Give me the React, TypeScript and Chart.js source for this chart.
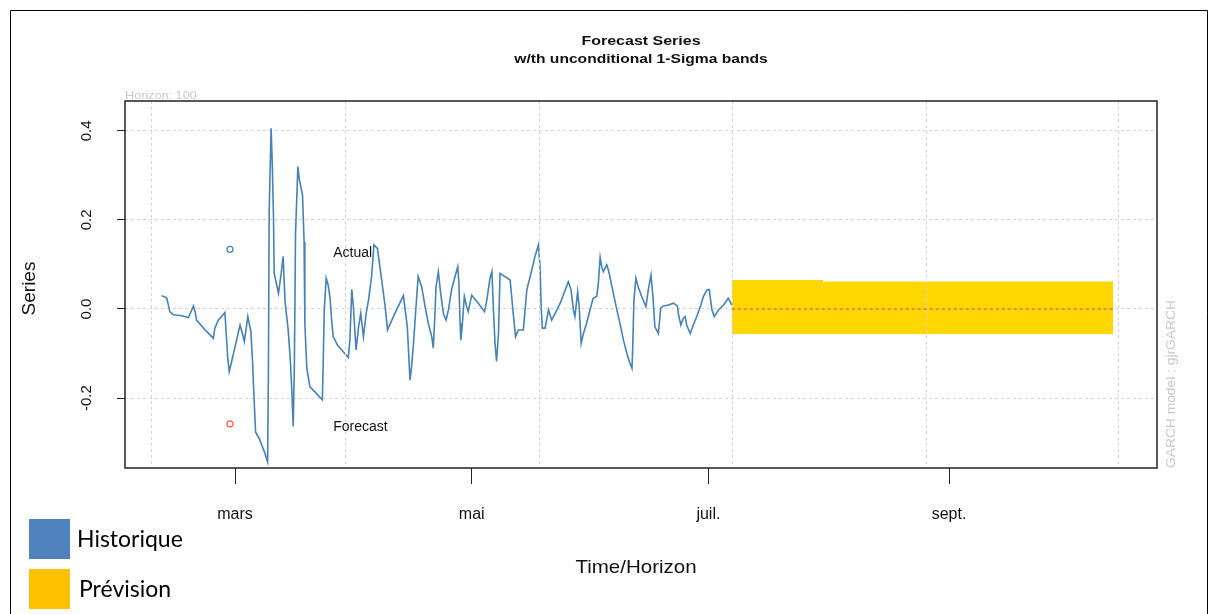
import React, { useEffect, useRef } from "react";
import { Chart, registerables } from "chart.js";

Chart.register(...registerables);

// ---- Data (x = day of year, y = series value) ----
const histDays = [
  40.1, 41.4, 42.2, 43.1, 45.3, 47.0, 48.3, 48.7, 49.1, 51.3, 53.0, 53.4, 53.8, 54.7, 56.4, 57.1, 57.5, 58.2, 59.0,
  60.3, 60.9, 61.4, 62.3, 63.1, 63.5, 64.0, 64.3, 65.4, 66.7, 67.4, 67.6, 67.8, 68.3, 68.6, 68.9, 69.1, 70.2, 70.9,
  71.4, 71.9, 72.7, 73.2, 73.6, 74.0, 74.3, 74.6, 75.2, 75.6, 76.4, 76.8, 77.0, 77.5, 78.3, 79.6, 81.5, 81.7, 82.0,
  82.5, 83.0, 83.5, 83.9, 84.3, 85.4, 86.5, 88.2, 88.6, 89.1, 89.5, 90.2, 90.8, 91.4, 92.1, 92.8, 93.4, 94.2, 94.8,
  95.7, 96.8, 97.7, 98.3, 100.2, 102.4, 103.4, 104.1, 104.5, 105.0, 105.4, 106.2, 107.1, 108.0, 108.8, 109.7, 110.1,
  110.5, 110.8, 111.4, 112.0, 112.7, 113.4, 114.0, 114.8, 115.7, 116.4, 116.7, 117.0, 117.2, 117.6, 118.1, 118.7,
  119.1, 120.0, 121.7, 123.3, 123.9, 124.7, 125.2, 125.6, 126.0, 126.4, 126.9, 127.3, 129.9, 130.7, 131.3, 132.0,
  133.3, 134.2, 135.5, 136.3, 137.2, 137.6, 137.9, 138.2, 138.9, 139.8, 140.6, 141.5, 142.8, 144.1, 144.9, 145.6,
  146.2, 146.6, 147.3, 147.7, 148.2, 148.8, 149.6, 150.7, 151.3, 152.2, 152.6, 153.1, 153.5, 153.9, 154.8, 155.2,
  155.6, 156.5, 157.4, 158.2, 159.1, 160.0, 160.6, 161.3, 161.5, 161.8, 162.3, 162.9, 163.8, 164.9, 165.5, 166.2,
  166.7, 167.2, 168.1, 168.7, 169.4, 170.7, 172.0, 173.0, 173.3, 173.9, 174.5, 175.0, 175.4, 176.3, 177.1, 178.0,
  178.9, 179.7, 180.6, 181.2, 181.9, 182.5, 183.6, 184.9, 186.1, 186.6, 187.0,
];
const histValues = [
  0.030, 0.025, -0.006, -0.013, -0.015, -0.019, 0.007, -0.006, -0.025, -0.047, -0.062, -0.066, -0.043, -0.025, -0.008,
  -0.107, -0.141, -0.115, -0.085, -0.036, -0.055, -0.073, -0.017, -0.051, -0.115, -0.219, -0.276, -0.294, -0.324,
  -0.343, -0.152, 0.215, 0.406, 0.327, 0.215, 0.080, 0.035, 0.080, 0.118, 0.016, -0.047, -0.107, -0.175, -0.264,
  -0.122, 0.170, 0.320, 0.290, 0.256, 0.151, -0.032, -0.133, -0.175, -0.186, -0.204, -0.133, -0.002, 0.069, 0.054,
  0.024, -0.025, -0.062, -0.081, -0.092, -0.109, -0.070, 0.044, 0.005, -0.092, -0.043, -0.010, -0.062, -0.010, 0.020,
  0.073, 0.144, 0.136, 0.065, 0.005, -0.047, -0.010, 0.030, -0.040, -0.160, -0.130, -0.077, -0.025, 0.073, 0.050,
  0.005, -0.032, -0.062, -0.088, -0.017, 0.050, 0.084, 0.035, -0.010, -0.025, -0.002, 0.043, 0.073, 0.095, 0.058,
  -0.032, -0.070, -0.032, 0.028, 0.005, -0.006, 0.031, 0.013, -0.006, 0.020, 0.069, 0.084, -0.002, -0.077, -0.118,
  -0.055, 0.080, 0.065, -0.010, -0.062, -0.047, -0.047, 0.043, 0.088, 0.118, 0.144, 0.095, 0.005, -0.043, -0.043,
  -0.002, -0.025, -0.010, 0.013, 0.043, 0.061, 0.043, -0.002, -0.017, 0.039, 0.005, -0.077, -0.055, -0.032, 0.005,
  0.024, 0.028, 0.054, 0.116, 0.095, 0.084, 0.099, 0.088, 0.073, 0.035, -0.002, -0.032, -0.070, -0.100, -0.118,
  -0.133, -0.085, 0.020, 0.069, 0.050, 0.028, 0.005, 0.043, 0.076, 0.028, -0.040, -0.055, 0.002, 0.007, 0.009, 0.013,
  0.007, -0.013, -0.036, -0.021, -0.017, -0.036, -0.055, -0.036, -0.017, 0.005, 0.028, 0.043, 0.044, -0.002, -0.017,
  -0.002, 0.009, 0.024, 0.016, 0.009,
];

const bandDays = [187.0, 210.5, 210.5, 285.3];
const bandUpper = [0.065, 0.065, 0.062, 0.062];
const bandLower = [-0.056, -0.056, -0.056, -0.056];
const forecastDays = [187.0, 285.3];
const forecastValues = [0, 0];

const monthTickDays = [59, 120, 181, 243];
const monthTickLabels = ["mars", "mai", "juil.", "sept."];
const yTickValues = [-0.2, 0, 0.2, 0.4];
const gridDays = [37.6, 87.6, 137.4, 187.1, 237.1, 286.8];

const xRange = [30.65, 296.6];
const yRange = [-0.357, 0.467];

// legend (inside plot) positions in data units
const legendDay = 57.7;
const legendTextDay = 84.3;
const actualLegendValue = 0.134;
const forecastLegendValue = -0.258;

const titleLine1 = "Forecast Series";
const titleLine2 = "w/th unconditional 1-Sigma bands";
const subText = "Horizon: 100";
const sideText = "GARCH model : gjrGARCH";
const yTitle = "Series";
const xTitle = "Time/Horizon";
const legendActual = "Actual";
const legendForecast = "Forecast";
const bottomLegendLabels = ["Historique", "Prévision"];
const bottomLegendColors = ["#4F81BD", "#FFC000"];

const SANS = "'Liberation Sans', Arial, sans-serif";
const LINE_BLUE = "steelblue";
const TOMATO = "#FF6347";
const GOLD = "#FFD700";
const GRID = "#d3d3d3";

const toPts = (xs: number[], ys: number[]) => xs.map((x, i) => ({ x, y: ys[i] }));

function drawText(
  ctx: CanvasRenderingContext2D,
  s: string,
  x: number,
  y: number,
  font: string,
  color: string,
  align: CanvasTextAlign = "center",
  rot = 0,
  sx = 1
) {
  ctx.save();
  ctx.translate(x, y);
  if (rot) ctx.rotate(rot);
  if (sx !== 1) ctx.scale(sx, 1);
  ctx.font = font;
  ctx.fillStyle = color;
  ctx.textAlign = align;
  ctx.textBaseline = "middle";
  ctx.fillText(s, 0, 0);
  ctx.restore();
}

const decorPlugin = {
  id: "decor",
  afterDraw(chart: any) {
    const ctx: CanvasRenderingContext2D = chart.ctx;
    const { left, right, top, bottom } = chart.chartArea;
    const xs = chart.scales.x;
    const ys = chart.scales.y;
    ctx.save();
    // plot box
    ctx.strokeStyle = "#222";
    ctx.lineWidth = 1.5;
    ctx.strokeRect(left, top, right - left, bottom - top);
    // outer frame
    ctx.strokeStyle = "#000";
    ctx.lineWidth = 1;
    ctx.beginPath();
    ctx.moveTo(10.5, 614);
    ctx.lineTo(10.5, 10.5);
    ctx.lineTo(1207.5, 10.5);
    ctx.lineTo(1207.5, 614);
    ctx.stroke();

    const cx = (left + right) / 2;
    drawText(ctx, titleLine1, cx, 42, `bold 12.5px ${SANS}`, "#111", "center", 0, 1.28);
    drawText(ctx, titleLine2, cx, 60, `bold 12.5px ${SANS}`, "#111", "center", 0, 1.25);
    drawText(ctx, subText, left, 96, `11px ${SANS}`, "#c8c8c8", "left", 0, 1.15);
    drawText(ctx, sideText, right + 15, bottom, `12px ${SANS}`, "#c8c8c8", "left", -Math.PI / 2, 1.15);
    drawText(ctx, yTitle, 30, (top + bottom) / 2 + 4, `19px ${SANS}`, "#111", "center", -Math.PI / 2);
    drawText(ctx, xTitle, cx - 5, 568, `19px ${SANS}`, "#111", "center", 0, 1.08);

    // inner legend
    const lx = xs.getPixelForValue(legendDay);
    const tx = xs.getPixelForValue(legendTextDay);
    const ay = ys.getPixelForValue(actualLegendValue);
    const fy = ys.getPixelForValue(forecastLegendValue);
    ctx.lineWidth = 1.3;
    ctx.strokeStyle = LINE_BLUE;
    ctx.beginPath();
    ctx.arc(lx, ay, 3, 0, Math.PI * 2);
    ctx.stroke();
    ctx.strokeStyle = TOMATO;
    ctx.beginPath();
    ctx.arc(lx, fy, 3, 0, Math.PI * 2);
    ctx.stroke();
    drawText(ctx, legendActual, tx, ay + 4, `14px ${SANS}`, "#111", "left");
    drawText(ctx, legendForecast, tx, fy + 3, `14px ${SANS}`, "#111", "left");

    // bottom legend (document)
    const boxes = [519, 569];
    bottomLegendLabels.forEach((lab, i) => {
      ctx.fillStyle = bottomLegendColors[i];
      ctx.fillRect(29, boxes[i], 41, 40);
      drawText(ctx, lab, i === 0 ? 77 : 79, boxes[i] + 21, `23px Lato, 'Open Sans', sans-serif`, "#000", "left");
    });
    ctx.restore();
  },
};

export default function App() {
  const ref = useRef<HTMLCanvasElement | null>(null);
  useEffect(() => {
    if (!ref.current) return;
    const chart = new Chart(ref.current, {
      type: "line",
      data: {
        datasets: [
          {
            label: "Actual",
            data: toPts(histDays, histValues),
            borderColor: LINE_BLUE,
            borderWidth: 1.6,
            pointRadius: 0,
            fill: false,
            tension: 0,
            order: 0,
          },
          {
            label: "Forecast",
            data: toPts(forecastDays, forecastValues),
            borderColor: TOMATO,
            borderWidth: 1.5,
            borderDash: [3, 3],
            pointRadius: 0,
            fill: false,
            order: 1,
          },
          {
            label: "Upper",
            data: toPts(bandDays, bandUpper),
            borderWidth: 0,
            borderColor: GOLD,
            backgroundColor: GOLD,
            pointRadius: 0,
            fill: "+1",
            order: 2,
          },
          {
            label: "Lower",
            data: toPts(bandDays, bandLower),
            borderWidth: 0,
            borderColor: GOLD,
            backgroundColor: GOLD,
            pointRadius: 0,
            fill: false,
            order: 3,
          },
        ],
      },
      options: {
        responsive: false,
        animation: false,
        devicePixelRatio: 1,
        layout: { padding: { left: 0, top: 101, right: 61, bottom: 0 } },
        plugins: { legend: { display: false }, tooltip: { enabled: false }, title: { display: false } },
        scales: {
          x: {
            type: "linear",
            position: "bottom",
            min: xRange[0],
            max: xRange[1],
            afterBuildTicks: (s: any) => {
              s.ticks = monthTickDays.map((v) => ({ value: v }));
            },
            afterFit: (s: any) => {
              s.height = 146;
            },
            ticks: {
              autoSkip: false,
              maxRotation: 0,
              padding: 21,
              color: "#111",
              font: { family: SANS, size: 16 },
              callback: (v: any) => monthTickLabels[monthTickDays.indexOf(Number(v))] ?? "",
            },
            grid: { drawOnChartArea: false, drawTicks: true, tickLength: 16, tickColor: "#222", tickWidth: 1 },
            border: { display: false },
          },
          xg: {
            type: "linear",
            position: "bottom",
            min: xRange[0],
            max: xRange[1],
            afterBuildTicks: (s: any) => {
              s.ticks = gridDays.map((v) => ({ value: v }));
            },
            afterFit: (s: any) => {
              s.height = 0;
            },
            ticks: { display: false },
            grid: { color: GRID, lineWidth: 1, drawTicks: false, z: 1 },
            border: { display: false, dash: [3, 3] },
          },
          y: {
            type: "linear",
            position: "left",
            min: yRange[0],
            max: yRange[1],
            afterBuildTicks: (s: any) => {
              s.ticks = yTickValues.map((v) => ({ value: v }));
            },
            afterFit: (s: any) => {
              s.width = 125;
            },
            ticks: {
              minRotation: 90,
              maxRotation: 90,
              crossAlign: "center",
              padding: 17,
              color: "#111",
              font: { family: SANS, size: 15 },
              callback: (v: any) => Number(v).toFixed(1),
            },
            grid: { color: GRID, lineWidth: 1, tickLength: 8, tickColor: "#222", tickWidth: 1 },
            border: { display: false, dash: [3, 3] },
          },
        },
      },
      plugins: [decorPlugin],
    } as any);
    return () => chart.destroy();
  }, []);
  return (
    <div style={{ position: "absolute", left: 0, top: 0, width: 1218, height: 614, background: "#fff" }}>
      <canvas ref={ref} width={1218} height={614} style={{ display: "block" }} />
    </div>
  );
}
